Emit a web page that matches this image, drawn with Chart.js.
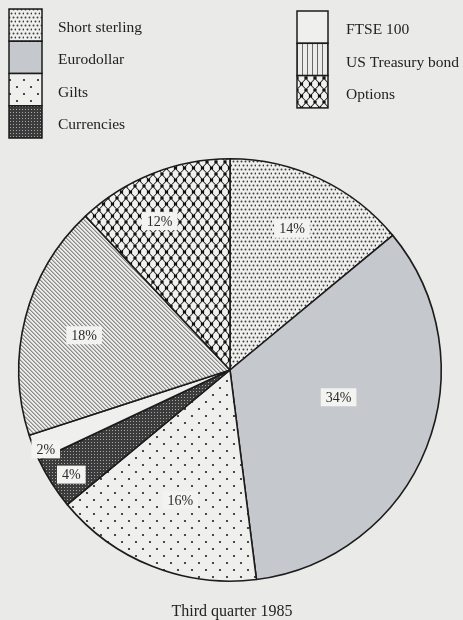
<!DOCTYPE html>
<html>
<head>
<meta charset="utf-8">
<script src="https://cdn.jsdelivr.net/npm/chart.js@4/dist/chart.umd.min.js"></script>
<style>
  html, body { margin: 0; padding: 0; background: #eaeae9; }
  canvas { display: block; }
</style>
</head>
<body>
<canvas id="pie" width="463" height="620"></canvas>
<script>
// Market share by contract, third quarter 1985
const categories = ['Short sterling', 'Eurodollar', 'Gilts', 'Currencies', 'FTSE 100', 'US Treasury bond', 'Options'];
const shares = [14, 34, 16, 4, 2, 18, 12];
const chartTitle = 'Third quarter 1985';

const PAPER = '#eaeae9';
const INK = '#1c1c1c';
const SERIF = '"Liberation Serif", "Times New Roman", serif';

const canvas = document.getElementById('pie');
const ctx = canvas.getContext('2d');

// Build a repeating fill from a small tile
function tilePattern(w, h, paint) {
  const t = document.createElement('canvas');
  t.width = w; t.height = h;
  const c = t.getContext('2d');
  paint(c, w, h);
  return ctx.createPattern(t, 'repeat');
}

function dot(c, x, y, r, col) {
  c.fillStyle = col;
  c.beginPath(); c.arc(x, y, r, 0, Math.PI * 2); c.fill();
}

// Fine stipple
const fineDots = tilePattern(8, 8, (c, w, h) => {
  c.fillStyle = '#efefee'; c.fillRect(0, 0, w, h);
  [[1, 1], [5, 1], [3, 5], [7, 5]].forEach(p => dot(c, p[0] + 0.5, p[1] + 0.5, 0.95, '#3a3a3a'));
});
// Flat mid grey
const greyTone = '#c5c8cc';
// Sparse dots
const sparseDots = tilePattern(14, 14, (c, w, h) => {
  c.fillStyle = '#efefee'; c.fillRect(0, 0, w, h);
  dot(c, 3, 3, 1.1, '#222');
  dot(c, 10, 10, 1.1, '#222');
});
// Dense dark cross-hatch
const darkHatch = tilePattern(3, 3, (c, w, h) => {
  c.fillStyle = '#3c3c3c'; c.fillRect(0, 0, w, h);
  c.fillStyle = '#a8a8a8'; c.fillRect(1, 1, 1, 1);
});
// Plain paper
const blank = '#efefee';
// Diagonal lines (top-left to bottom-right)
const diagLines = tilePattern(4, 4, (c, w, h) => {
  c.fillStyle = '#ececeb'; c.fillRect(0, 0, w, h);
  c.fillStyle = '#8a8a8a';
  for (let i = 0; i < 4; i++) c.fillRect(i, i, 1, 1);
  c.fillStyle = '#b9b9b9';
  for (let i = 0; i < 4; i++) c.fillRect((i + 1) % 4, i, 1, 1);
});
// Vertical lines for the key swatch of the bond contract
const vertLines = tilePattern(5, 5, (c, w, h) => {
  c.fillStyle = '#ececeb'; c.fillRect(0, 0, w, h);
  c.fillStyle = '#6a6a6a'; c.fillRect(2, 0, 1, h);
});
// Chain-link mesh
const mesh = tilePattern(9, 12, (c, w, h) => {
  c.fillStyle = '#111'; c.fillRect(0, 0, w, h);
  c.fillStyle = '#f1f1f0';
  const hole = (cx, cy) => {
    const hw = 2.9, hh = 4.7;
    c.beginPath();
    c.moveTo(cx, cy - hh);
    c.lineTo(cx + hw, cy - hh * 0.35);
    c.lineTo(cx + hw, cy + hh * 0.35);
    c.lineTo(cx, cy + hh);
    c.lineTo(cx - hw, cy + hh * 0.35);
    c.lineTo(cx - hw, cy - hh * 0.35);
    c.closePath(); c.fill();
  };
  hole(w / 2, h / 2);
  [[0, 0], [w, 0], [0, h], [w, h]].forEach(p => hole(p[0], p[1]));
});

const sliceFills = [fineDots, greyTone, sparseDots, darkHatch, blank, diagLines, mesh];
const keyFills = [fineDots, greyTone, sparseDots, darkHatch, blank, vertLines, mesh];

// Percentage tags placed along each slice (radius fraction, angle shift in degrees)
const tagPlacement = [
  { r: 0.73, shift: -1.5 }, { r: 0.53, shift: -7.5 }, { r: 0.66, shift: -0.7 },
  { r: 0.90, shift: -1 }, { r: 0.95, shift: -1.7 }, { r: 0.71, shift: -1 }, { r: 0.78, shift: -3.7 }
];

const paperPlugin = {
  id: 'paper',
  beforeDraw(chart) {
    const c = chart.ctx;
    c.save(); c.fillStyle = PAPER; c.fillRect(0, 0, chart.width, chart.height); c.restore();
  }
};

const sliceTags = {
  id: 'sliceTags',
  afterDatasetsDraw(chart) {
    const c = chart.ctx;
    const meta = chart.getDatasetMeta(0);
    const values = chart.data.datasets[0].data;
    c.save();
    c.font = '14px ' + SERIF;
    c.textAlign = 'center';
    c.textBaseline = 'middle';
    meta.data.forEach((arc, i) => {
      const p = tagPlacement[i];
      const mid = (arc.startAngle + arc.endAngle) / 2 + p.shift * Math.PI / 180;
      const rad = arc.outerRadius * p.r;
      const x = arc.x + Math.cos(mid) * rad;
      const y = arc.y + Math.sin(mid) * rad;
      const txt = values[i] + '%';
      const tw = c.measureText(txt).width;
      c.fillStyle = '#f3f3f2';
      c.fillRect(x - tw / 2 - 5, y - 9, tw + 10, 18);
      c.fillStyle = '#2a2a2a';
      c.fillText(txt, x, y + 1);
    });
    c.restore();
  }
};

const swatchKey = {
  id: 'swatchKey',
  afterDraw(chart) {
    const c = chart.ctx;
    const labels = chart.data.labels;
    const columns = [
      { x: 9, y: 9, w: 33, cell: 32.25, items: [0, 1, 2, 3], tx: 58 },
      { x: 297, y: 11, w: 31, cell: 32.3, items: [4, 5, 6], tx: 346 }
    ];
    c.save();
    c.font = '15.5px ' + SERIF;
    c.textBaseline = 'middle';
    c.textAlign = 'left';
    columns.forEach(col => {
      col.items.forEach((idx, k) => {
        const y = col.y + k * col.cell;
        c.fillStyle = keyFills[idx];
        c.fillRect(col.x, y, col.w, col.cell);
        c.strokeStyle = INK; c.lineWidth = 1.5;
        c.strokeRect(col.x, y, col.w, col.cell);
        c.fillStyle = '#222';
        c.fillText(labels[idx], col.tx, y + col.cell / 2 + 3);
      });
    });
    // caption under the pie
    c.font = '16px ' + SERIF;
    c.textAlign = 'center';
    c.fillStyle = '#222';
    c.fillText(chartTitle, 232, 612);
    c.restore();
  }
};

new Chart(canvas, {
  type: 'pie',
  data: {
    labels: categories,
    datasets: [{
      data: shares,
      backgroundColor: sliceFills,
      borderColor: INK,
      borderWidth: 1.6
    }]
  },
  options: {
    responsive: false,
    animation: false,
    devicePixelRatio: 1,
    layout: { padding: { left: 18, right: 21, top: 158, bottom: 38 } },
    plugins: {
      legend: { display: false },
      tooltip: { enabled: false },
      title: { display: false }
    }
  },
  plugins: [paperPlugin, sliceTags, swatchKey]
});
</script>
</body>
</html>
